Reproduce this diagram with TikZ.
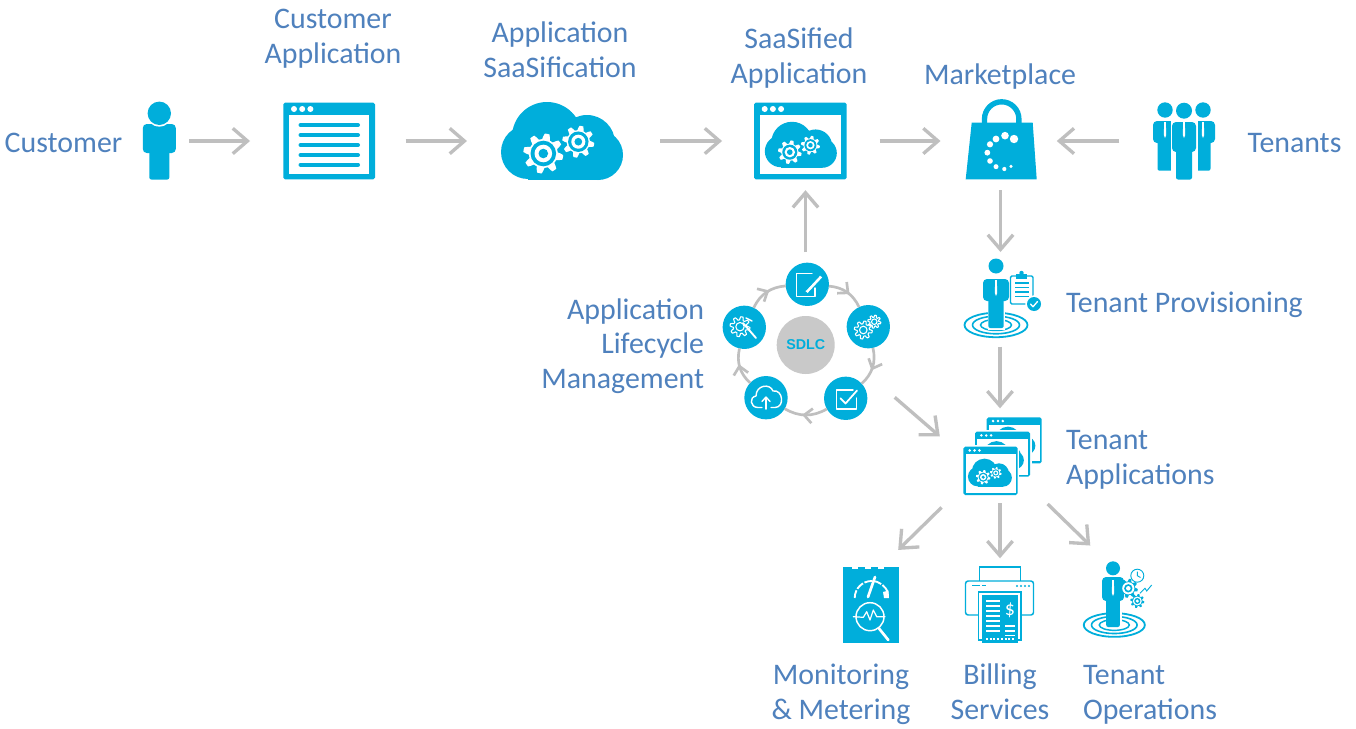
\documentclass[tikz,border=0pt]{standalone}
\usepackage{fontspec}
\setmainfont{Carlito}
\newfontfamily\sdlcfont{Liberation Sans}
\usetikzlibrary{arrows.meta,decorations.markings}
\definecolor{ic}{HTML}{00AEDB}
\definecolor{tx}{HTML}{4F81BD}
\definecolor{ar}{HTML}{BFBFBF}
\definecolor{sd}{HTML}{C9C9C9}
\tikzset{
  hit/.style={inner sep=0pt,outer sep=0pt},
  lab/.style={text=tx,inner sep=0pt,outer sep=0pt,font=\fontsize{22.4}{26}\selectfont},
  flow/.style={draw=ar,line width=2.5pt,-{Straight Barb[length=11pt,width=19pt]}},
  ringflow/.style={draw=ar,line width=2pt,postaction={decorate},
    decoration={markings,mark=at position .58 with {\arrow{Straight Barb[length=6pt,width=11pt]}}}},
  sdlcstep/.style={circle,fill=ic,inner sep=0pt,outer sep=0pt,minimum size=32.5pt},
  wl/.style={draw=white,line width=1.05pt,line cap=round,line join=round},
}
% gear: x y radius toothcolour gapcolour
\newcommand\gearicon[5]{\begin{scope}[shift={(#1,#2)},scale=#3]
  \fill[#4] plot[domain=0:360,samples=81] (\x:{.86+.14*max(-1,min(1,3*sin(8*\x)))}) -- cycle;
  \fill[#5] (0,0) circle (.64);
  \fill[#4] (0,0) circle (.44);
  \fill[#5] (0,0) circle (.24);
\end{scope}}
% thin outline gear in white
\newcommand\linegear[3]{\begin{scope}[shift={(#1,#2)},scale=#3]
  \draw[wl,line width=.8pt] plot[domain=0:360,samples=81] (\x:{.84+.16*max(-1,min(1,3*sin(8*\x)))}) -- cycle;
  \draw[wl,line width=.8pt] (0,0) circle (.42);
\end{scope}}
% cloud with its two gears
\newcommand\cloudicon[3]{\begin{scope}[shift={(#1,#2)},scale=#3]
  \fill[ic] (-34.3,11.5) circle (27);
  \fill[ic] (-15.3,-3.5) circle (35);
  \fill[ic] (24.7,2.5) circle (28);
  \fill[ic] (35.7,14.5) circle (25);
  \fill[ic] (-34.3,10) rectangle (35.7,39);
  \gearicon{-19}{13}{20}{white}{ic}
  \gearicon{16}{1.2}{16}{white}{ic}
\end{scope}}
% window: x0 y0 x1 y1 bar stroke dot
\newcommand\winicon[7]{%
  \fill[white] ({#1-1.5},{#2-1.5}) rectangle ({#3+1.5},{#4+1.5});
  \fill[ic,rounded corners=1.3pt] (#1,#2) rectangle (#3,#4);
  \fill[white] ({#1+#6},{#2+#5}) rectangle ({#3-#6},{#4-#6});
  \foreach \k in {0,1,2}{\fill[white] ({#1+#5*(.85+\k*.65)},{#2+#5/2}) circle (#7);}
}
% man: x headY headR torsoHalf torsoTop torsoBot legHalf legBot
\newcommand\manicon[8]{%
  \fill[ic,rounded corners=3pt] ({#1-#4},#5) rectangle ({#1+#4},#6);
  \fill[ic,rounded corners=1.5pt] ({#1-#7},{#6-6}) rectangle ({#1+#7},#8);
  \fill[white] (#1,#2) circle ({#3+1.6});
  \fill[ic] (#1,#2) circle (#3);
}
\newcommand\tieicon[2]{\fill[white] ({#1-.8},#2) -- ({#1+.8},#2) -- ({#1+1.2},{#2+13}) -- (#1,{#2+16}) -- ({#1-1.2},{#2+13}) -- cycle;}
\newcommand\rippleicon[3]{\begin{scope}[shift={(#1,#2)},scale=#3]
  \draw[ic,line width=1.35pt] (0,0) ellipse (31.5 and 12.2);
  \draw[ic,line width=1.2pt] (0,0) ellipse (23.5 and 8.8);
  \draw[ic,line width=1.1pt] (0,0) ellipse (15.5 and 5.5);
\end{scope}}
\begin{document}
\begin{tikzpicture}[x=.75pt,y=-.75pt]
\path[use as bounding box,fill=white] (0,0) rectangle (1356,728);
% anchors of the icons
\node[hit,minimum width=25pt,minimum height=58.5pt] (person) at (159.5,141) {};
\node[hit,minimum width=69pt,minimum height=58pt] (capp) at (329,141) {};
\node[hit,minimum width=93pt,minimum height=58.5pt] (cloud) at (562.3,141) {};
\node[hit,minimum width=69.75pt,minimum height=58pt] (saas) at (800,141) {};
\node[hit,minimum width=54pt,minimum height=58.5pt] (market) at (1000.5,141) {};
\node[hit,minimum width=46.5pt,minimum height=58.5pt] (tenants) at (1184,141) {};
\node[hit,minimum width=60pt,minimum height=60.75pt] (prov) at (1000,299.5) {};
\node[hit,minimum width=59.25pt,minimum height=58.5pt] (tapps) at (1002,456) {};
\node[hit,minimum width=42pt,minimum height=57.75pt] (monitor) at (871.5,604.5) {};
\node[hit,minimum width=52pt,minimum height=57.75pt] (billing) at (1000,604.5) {};
\node[hit,minimum width=48.75pt,minimum height=59.25pt] (ops) at (1115.5,600) {};
\node[hit,circle,minimum size=126pt] (sdlc) at (805.5,343) {};

% customer
\manicon{159.3}{113.3}{11.7}{16.5}{124}{153}{10}{179.5}
% customer application
\winicon{283.3}{102.7}{375}{179.3}{12.6}{5.7}{3}
\foreach \yy in {125,135,145,155,164.7}{\draw[ic,line width=3pt,line cap=round] (300.5,\yy) -- (358,\yy);}
% cloud
\cloudicon{562.3}{140.5}{1}
% saasified application
\winicon{754}{102.7}{846.7}{179.3}{12.6}{5.7}{3}
\cloudicon{801}{144.5}{.59}
% marketplace bag
\draw[ic,line width=4pt] (984.5,124) -- (984.5,119) arc[start angle=180,end angle=360,radius=17.2] -- (1018.9,124);
\fill[ic] (971.7,122.7) -- (1032.7,122.7) -- (1036.7,179.3) -- (965.7,179.3) -- cycle;
\foreach \dx/\dy/\dr in {822/147/4.2,795/137/3.8,768/147/3.4,750/163/3.1,742/188/2.9,750/213/2.8,768/230/2.5,793/237/2.1,813/229/1.7}{
  \fill[white] ({\dx/3+740},{\dy/3+90}) circle (\dr);}
% tenants
\manicon{1165}{110}{7.7}{12}{121}{143}{7.5}{170.7}
\manicon{1203}{110}{7.7}{12}{121}{143}{7.5}{170.7}
\tieicon{1165}{122}
\tieicon{1203}{122}
\fill[white] (1171,120.5) rectangle (1198,181);
\manicon{1184}{110.7}{8}{12}{122}{152}{8}{179.5}
\tieicon{1184}{122}
% tenant provisioning
\rippleicon{996}{325}{1}
\fill[white] (987.5,300) rectangle (1005,329.5);
\manicon{996}{266}{7.5}{13}{279}{301}{7.7}{328}
\tieicon{996}{280}
\draw[ic,line width=1pt,rounded corners=1pt,fill=white] (1010.5,276) rectangle (1033,304);
\fill[ic] (1016,274) rectangle (1027,279);
\fill[ic] (1021.5,273) circle (2.2);
\foreach \yy in {283,287.5,292,296.5}{\draw[ic,line width=.8pt] (1015,\yy) -- (1029,\yy);}
\fill[white] (1034,304) circle (8.7);
\fill[ic] (1034,304) circle (7);
\draw[wl,line width=1pt] (1030.5,304) -- (1033,306.8) -- (1037.5,301.5);
% tenant applications
\winicon{986.7}{417.3}{1041.7}{463.3}{7.5}{2.2}{1.4}
\cloudicon{1013.5}{440.5}{.36}
\winicon{975}{431.7}{1030}{476.7}{7.5}{2.2}{1.4}
\cloudicon{1002}{455}{.36}
\winicon{963.3}{446.7}{1017.7}{495}{7.5}{2.2}{1.4}
\cloudicon{990}{472.5}{.36}
% monitoring
\fill[ic] (843.3,566.7) rectangle (899,643.3);
\foreach \nx in {852,865,878}{\fill[white] (\nx,566) rectangle ({\nx+6},569.3);}
\draw[white,line width=1.4pt,dash pattern=on 6pt off 1.2pt] (854.7,598) arc[start angle=180,end angle=345,radius=17];
\fill[white] (883,592) -- (888.5,590.5) -- (889,598) -- (884,598) -- cycle;
\draw[white,line width=2pt,line cap=round] (868,597) -- (875,577);
\draw[white,line width=1.1pt] (870,616.7) circle (14);
\draw[wl,line width=.9pt] (853.3,616.7) -- (863.3,617.3) -- (866.7,611.7) -- (870,620) -- (873.3,610) -- (876.7,616.7) -- (885,616.7);
\draw[white,line width=2pt,line cap=round] (879,628.5) -- (888.3,640);
% billing
\draw[ic,line width=1.1pt,fill=white] (979.5,567) rectangle (1020.5,585);
\draw[ic,line width=1.1pt,fill=white,rounded corners=2pt] (965.5,581) rectangle (1033.5,615);
\draw[ic,line width=1pt] (972,585.5) -- (980,585.5) (982,585.5) -- (986,585.5);
\foreach \dx in {1017,1021,1025,1029}{\fill[ic] (\dx,586) circle (1.2);}
\draw[ic,line width=1.1pt,fill=white] (978.5,592) rectangle (1021,640);
\fill[ic] (981.7,594.5) rectangle (1018.3,643.3);
\foreach \yy in {601,606,611,616,621,626,631}{\draw[white,line width=1pt] (986,\yy) -- (1000,\yy);}
\node[hit,text=white,font=\fontsize{15}{15}\selectfont] (dollar) at (1010,610) {\$};
\foreach \yy in {626,631,635.5}{\draw[white,line width=1pt] (1005,\yy) -- (1015,\yy);}
\draw[white,line width=1pt,dash pattern=on 1.5pt off 1.3pt] (986,639) -- (1015,639);
% tenant operations
\rippleicon{1114.3}{625}{.97}
\fill[white] (1105.5,600) rectangle (1122,628);
\manicon{1113}{568.3}{7}{11}{577}{601}{6.8}{627}
\tieicon{1113}{580}
\gearicon{1128.3}{588.3}{9.5}{ic}{white}
\gearicon{1137.3}{601}{7}{ic}{white}
\draw[ic,line width=.7pt] (1137.3,575.7) circle (6.5) (1137.3,571.5) -- (1137.3,575.7) -- (1140.5,577.5);
\draw[ic,line width=.7pt] (1140,593.3) -- (1145,588.3) -- (1146.7,591) -- (1151.7,585);

% SDLC wheel
\node[circle,fill=sd,inner sep=0pt,minimum size=43.5pt,text=ic,font=\sdlcfont\bfseries\fontsize{10.7}{12}\selectfont] (core) at (805.7,345) {SDLC};
\node[sdlcstep] (s1) at (807.3,284.3) {};
\node[sdlcstep] (s2) at (868.3,326.7) {};
\node[sdlcstep] (s3) at (845.7,398.3) {};
\node[sdlcstep] (s4) at (766,397.7) {};
\node[sdlcstep] (s5) at (744.3,327.3) {};
\draw[ringflow] (s1) to[bend left=30] (s2);
\draw[ringflow] (s2) to[bend left=30] (s3);
\draw[ringflow] (s3) to[bend left=30] (s4);
\draw[ringflow] (s4) to[bend left=30] (s5);
\draw[ringflow] (s5) to[bend left=30] (s1);
% wheel glyphs
\draw[wl] (812,273.5) -- (796.7,273.5) -- (796.7,296.5) -- (815,296.5) -- (815,288);
\draw[wl,line width=2.2pt,line cap=butt] (821,276.5) -- (806.5,292);
\draw[ic,line width=.7pt] (819.5,275.5) -- (805.5,290.5);
\linegear{863.3}{330}{9}
\linegear{874.3}{321.7}{6.5}
\draw[wl] (853,390) -- (836.7,390) -- (836.7,409) -- (856.7,409) -- (856.7,398);
\draw[wl,line width=1.3pt] (840.5,398.3) -- (845.5,403.5) -- (857,390.5);
\draw[wl] (762,407.5) -- (758,407.5) .. controls (750,407.5) and (749,397) .. (756,396)
  .. controls (756,385) and (770,383) .. (773,391) .. controls (783,389) and (785,407.5) .. (775,407.5) -- (771,407.5);
\draw[wl,line width=1.2pt] (766,409) -- (766,398);
\draw[wl] (762,401.5) -- (766,397) -- (770,401.5);
\linegear{740}{326.7}{10}
\draw[wl,line width=1.4pt] (743,323) -- (756,338);
\draw[wl] (746,318) -- (752,321);

% connectors
\draw[flow,shorten <=9.75pt,shorten >=24.75pt] (person.east) -- (capp.west);
\draw[flow,shorten <=23pt,shorten >=25pt] (capp.east) -- (cloud.west);
\draw[flow,shorten <=26.8pt,shorten >=23.6pt] (cloud.east) -- (saas.west);
\draw[flow,shorten <=25.1pt,shorten >=18pt] (saas.east) -- (market.west);
\draw[flow,shorten <=25.3pt,shorten >=15.2pt] (tenants.west) -- (market.east);
\draw[flow,shorten <=7.5pt,shorten >=5.25pt] (market.south) -- (market.south |- prov.north);
\draw[flow,shorten <=5pt,shorten >=6.5pt] (prov.south) -- (prov.south |- tapps.north);
\draw[flow,shorten <=5.25pt,shorten >=7.9pt] (sdlc.north) -- (sdlc.north |- saas.south);
\draw[flow,shorten <=15.6pt,shorten >=22.5pt] (sdlc.-29.4) -- (tapps.west);
\draw[flow,shorten <=6pt,shorten >=5.8pt] (billing.north |- tapps.south) -- (billing.north);
\draw[flow,shorten <=22pt,shorten >=17.2pt] (tapps.218) -- (monitor.75.3);
\draw[flow,shorten <=9.7pt,shorten >=16.1pt] (tapps.-47.4) -- (ops.104.5);

% labels
\node[lab] (t1) at (63.5,143) {Customer};
\node[lab,align=center] (t2) at (333,39) {Customer\\Application};
\node[lab,align=center] (t3) at (560,50) {Application\\SaaSification};
\node[lab,align=center] (t4) at (799,58) {SaaSified\\Application};
\node[lab] (t5) at (1000,77) {Marketplace};
\node[lab] (t6) at (1294.5,143) {Tenants};
\node[lab,align=right,anchor=east] (t7) at (704,346) {Application\\Lifecycle\\Management};
\node[lab,anchor=west] (t8) at (1066,305) {Tenant Provisioning};
\node[lab,align=left,anchor=west] (t9) at (1066,459.5) {Tenant\\Applications};
\node[lab,align=center] (t10) at (841,694) {Monitoring\\\& Metering};
\node[lab,align=center] (t11) at (1000,692) {Billing\\Services};
\node[lab,align=left,anchor=west] (t12) at (1083,695) {Tenant\\Operations};
\end{tikzpicture}
\end{document}
